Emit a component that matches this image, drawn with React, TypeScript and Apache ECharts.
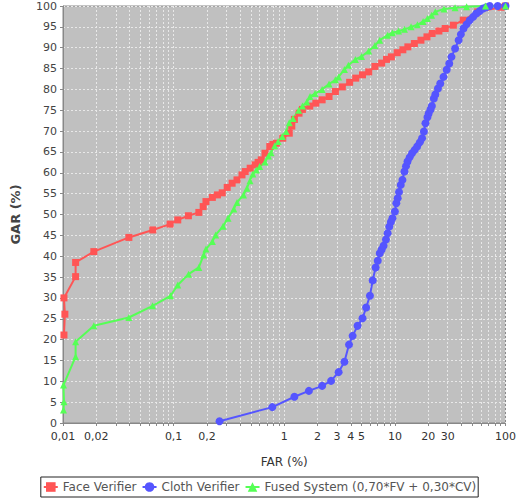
import React, { useEffect, useRef } from "react";
import * as echarts from "echarts";

const faceData: [number, number][] = [
  [0.0102, 21.1], [0.0104, 26.1], [0.0102, 30.0], [0.013, 35.1], [0.013, 38.5], [0.019, 41.1],
  [0.0394, 44.5], [0.0648, 46.3], [0.093, 47.7], [0.109, 48.7], [0.136, 49.7], [0.169, 50.5],
  [0.185, 51.9], [0.196, 53.1], [0.224, 54.1], [0.249, 54.7], [0.275, 55.2], [0.305, 56.5],
  [0.338, 57.5], [0.374, 58.3], [0.415, 59.5], [0.444, 60.3], [0.492, 61.1], [0.545, 61.9],
  [0.58, 62.5], [0.62, 63.1], [0.67, 64.7], [0.74, 66.3], [0.79, 66.8], [0.85, 67.1],
  [0.97, 68.3], [1.11, 69.5], [1.17, 71.2], [1.235, 72.8], [1.36, 74.3], [1.46, 75.2],
  [1.7, 76.0], [1.93, 76.7], [2.2, 77.5], [2.54, 78.3], [2.9, 79.5], [3.35, 80.6],
  [3.9, 81.7], [4.43, 82.7], [5.1, 83.5], [5.8, 84.2], [6.6, 85.5], [7.6, 86.3],
  [8.4, 87.2], [9.3, 87.8], [10.5, 88.8], [11.8, 89.5], [13.1, 90.2], [15, 91.0],
  [17.2, 91.8], [19.5, 92.6], [21.7, 93.4], [25, 94.0], [28.5, 94.6], [33.8, 95.4],
  [41.5, 96.6], [56, 98.6], [91, 99.7], [100, 100],
];

const clothData: [number, number][] = [
  [0.26, 0.4], [0.78, 3.8], [1.235, 6.3], [1.67, 7.7], [2.2, 8.9], [2.65, 10.1],
  [3.1, 12.2], [3.5, 14.7], [3.85, 18.8], [4.15, 20.9], [4.6, 23.3], [5.1, 25.1],
  [5.5, 27.7], [5.95, 30.5], [6.3, 34.2], [6.7, 37.3], [7.0, 38.9], [7.3, 40.7],
  [7.6, 41.6], [7.9, 42.5], [8.3, 44.0], [8.6, 45.5], [8.9, 47.1], [9.2, 48.2],
  [9.5, 49.1], [10.0, 50.7], [10.3, 52.7], [10.6, 53.9], [10.9, 55.4], [11.3, 57.1],
  [11.7, 58.3], [12.2, 60.3], [12.6, 61.6], [13.0, 62.7], [13.6, 63.7], [14.3, 64.7],
  [15.1, 65.5], [15.9, 66.3], [16.8, 67.3], [17.6, 68.3], [18.3, 69.9], [18.9, 71.9],
  [19.7, 73.3], [20.2, 74.2], [21.0, 75.2], [21.6, 76.0], [22.5, 77.8], [23.2, 78.8],
  [24.5, 80.2], [25.7, 81.4], [27.5, 83.0], [29.4, 84.7], [31, 86.2], [32.5, 87.8],
  [35, 89.8], [37.7, 91.8], [39.5, 93.2], [41.7, 94.6], [44.5, 95.6], [47.5, 96.6],
  [51, 97.4], [54.5, 98.2], [58.5, 98.8], [62.6, 99.4], [67, 99.7], [72, 100],
  [85, 100], [100, 100],
];

const fusedData: [number, number][] = [
  [0.0101, 3.1], [0.0102, 5.1], [0.0101, 9.1], [0.013, 15.9], [0.013, 19.5], [0.019, 23.3],
  [0.0394, 25.3], [0.0645, 28.1], [0.0937, 30.5], [0.109, 33.1], [0.1365, 35.7], [0.169, 37.3],
  [0.187, 40.3], [0.196, 41.7], [0.224, 43.5], [0.24, 45.1], [0.28, 47.2], [0.31, 49.1],
  [0.35, 51.3], [0.374, 52.9], [0.428, 54.7], [0.46, 56.3], [0.49, 58.1], [0.52, 59.7],
  [0.56, 60.7], [0.6, 61.5], [0.67, 62.6], [0.72, 64.0], [0.76, 64.8], [0.82, 66.5],
  [0.88, 67.5], [0.96, 68.7], [1.04, 69.9], [1.11, 72.0], [1.2, 73.0], [1.35, 75.0],
  [1.46, 76.0], [1.6, 77.0], [1.71, 78.3], [1.9, 79.0], [2.2, 80.0], [2.54, 81.3],
  [2.9, 82.3], [3.1, 83.0], [3.5, 84.8], [3.8, 85.8], [4.4, 87.2], [5.0, 87.9],
  [5.8, 89.2], [6.6, 90.5], [7.3, 91.8], [8.6, 93.0], [9.5, 93.6], [10.8, 94.0],
  [12.2, 94.4], [14, 95.0], [16, 95.5], [18, 96.3], [19.7, 97], [21.5, 97.8],
  [23.2, 98.6], [27.8, 99.3], [35, 99.6], [44.5, 99.8], [66, 100], [100, 100],
];

const xLabelValues = [0.01, 0.02, 0.1, 0.2, 1, 2, 3, 4, 5, 10, 20, 30, 100];
const xTickValues = [
  0.01, 0.02, 0.03, 0.04, 0.05, 0.06, 0.07, 0.08, 0.09,
  0.1, 0.2, 0.3, 0.4, 0.5, 0.6, 0.7, 0.8, 0.9,
  1, 2, 3, 4, 5, 6, 7, 8, 9,
  10, 20, 30, 40, 50, 60, 70, 80, 90, 100,
];

const seriesNames = ["Face Verifier", "Cloth Verifier", "Fused System (0,70*FV + 0,30*CV)"];
const seriesColors = ["#FF5555", "#5555FF", "#55FF55"];
const seriesSymbols = ["rect", "circle", "triangle"];
const seriesSymbolSizes = [7, 8, 7];

export default function App() {
  const ref = useRef<HTMLDivElement>(null);
  useEffect(() => {
    document.body.style.margin = "0";
    if (!ref.current) return;
    const chart = echarts.init(ref.current, undefined, { renderer: "svg" });
    const datasets = [faceData, clothData, fusedData];
    const fmt = (v: number) => String(Number(Number(v).toPrecision(6))).replace(".", ",");
    chart.setOption({
      animation: false,
      textStyle: { fontFamily: "DejaVu Sans" },
      grid: {
        left: 63, top: 6, right: 6, bottom: 75,
        show: true, backgroundColor: "#C0C0C0", borderColor: "#888888", borderWidth: 1,
      },
      legend: {
        bottom: 1, left: "center",
        data: seriesNames,
        borderColor: "#222", borderWidth: 1, padding: [4, 2],
        itemWidth: 14, itemHeight: 12, itemGap: 5,
        textStyle: { fontSize: 12, color: "#555", fontFamily: "DejaVu Sans" },
      },
      xAxis: {
        type: "log", logBase: 10, min: 0.01, max: 100,
        name: "FAR (%)", nameLocation: "middle", nameGap: 33,
        nameTextStyle: { fontSize: 12, color: "#333" },
        axisLine: { show: true, lineStyle: { color: "#888" } },
        axisTick: { show: true, length: 3, customValues: xTickValues, lineStyle: { color: "#888" } },
        axisLabel: { customValues: xLabelValues, formatter: fmt, fontSize: 11, color: "#333", margin: 8 },
        splitLine: { show: true, lineStyle: { color: "#E8E8E8", type: [2, 2], width: 1 } },
        minorTick: { show: false }, minorSplitLine: { show: false },
      },
      yAxis: {
        type: "value", min: 0, max: 100, interval: 5,
        name: "GAR (%)", nameLocation: "middle", nameGap: 41,
        nameTextStyle: { fontSize: 13, fontWeight: "bold", color: "#444" },
        axisLine: { show: true, lineStyle: { color: "#888" } },
        axisTick: { show: true, length: 3, lineStyle: { color: "#888" } },
        axisLabel: { fontSize: 11, color: "#444", margin: 6 },
        splitLine: { show: true, lineStyle: { color: "#E8E8E8", type: [2, 2], width: 1 } },
      },
      series: datasets.map((d, i) => ({
        name: seriesNames[i],
        type: "line",
        data: d,
        symbol: seriesSymbols[i],
        symbolSize: seriesSymbolSizes[i],
        showAllSymbol: true,
        lineStyle: { color: seriesColors[i], width: 2 },
        itemStyle: { color: seriesColors[i] },
        emphasis: { disabled: true },
      })),
    });
    return () => chart.dispose();
  }, []);
  return <div ref={ref} style={{ width: 519, height: 498 }} />;
}
